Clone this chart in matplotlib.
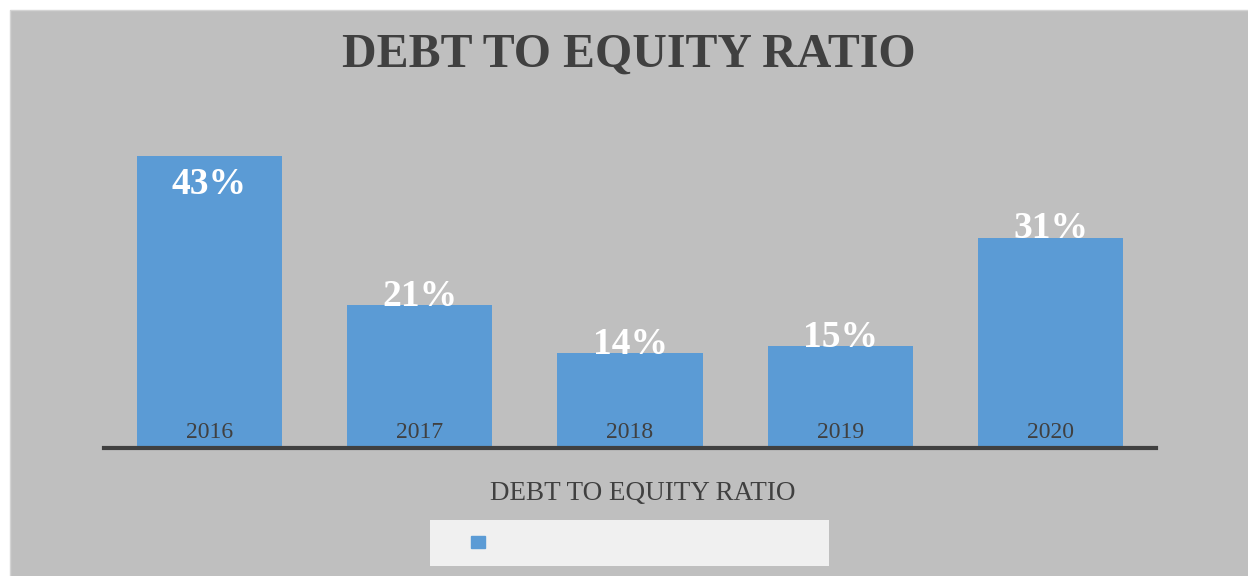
import matplotlib.pyplot as plt
from matplotlib.patches import Rectangle, Patch

years = ['2016', '2017', '2018', '2019', '2020']
ratios = [0.43, 0.21, 0.14, 0.15, 0.31]
title = 'DEBT TO EQUITY RATIO'

bar_color = '#5B9BD5'
dark = '#404040'
W, H = 1248, 576

plt.rcParams['font.family'] = ['Liberation Serif', 'DejaVu Serif']

fig = plt.figure(figsize=(W / 100, H / 100), dpi=100, facecolor='white')

# gray chart area (starts a bit in from the left/top edge, runs off right/bottom)
fig.patches.append(Rectangle((10 / W, -0.01), 1.01, 1.01 - 10 / H,
                             transform=fig.transFigure, facecolor='#BFBFBF',
                             edgecolor='#D4D4D4', linewidth=1, zorder=0))

ax = fig.add_axes([104 / W, 1 - 448 / H, (1156 - 104) / W, (448 - 108.5) / H])
ax.set_facecolor('none')
ax.set_zorder(2)

x = range(len(years))
bars = ax.bar(x, ratios, width=0.69, color=bar_color, zorder=2)
ax.set_xlim(-0.5, len(years) - 0.5)
ax.set_ylim(0, 0.5)

for s in ['top', 'left', 'right']:
    ax.spines[s].set_visible(False)
ax.spines['bottom'].set_color(dark)
ax.spines['bottom'].set_linewidth(3)
ax.spines['bottom'].set_zorder(3)
ax.set_xticks([])
ax.set_yticks([])

# year labels sit inside the bars, value labels near the top
for i, (yr, v) in enumerate(zip(years, ratios)):
    ax.annotate(yr, (i, 0), xytext=(0, 7.5), textcoords='offset points',
                ha='center', va='baseline', fontsize=17, color=dark, zorder=4)
    if v > 0.4:
        off, va = -8, 'top'
    else:
        off, va = -0.5, 'baseline'
    ax.annotate(f'{v:.0%}', (i, v), xytext=(0, off), textcoords='offset points',
                ha='center', va=va, fontsize=27, fontweight='bold',
                color='white', zorder=4)

fig.text(629 / W, 1 - 55 / H, title, ha='center', va='center',
         fontsize=34.5, fontweight='bold', color=dark, zorder=3)
fig.text(643 / W, 1 - 493 / H, title, ha='center', va='center',
         fontsize=19.5, color=dark, zorder=3)

# legend box (series has no visible name)
fig.patches.append(Rectangle((430 / W, 1 - 566 / H), 399 / W, 46 / H,
                             transform=fig.transFigure, facecolor='#F0F0F0',
                             edgecolor='none', zorder=1))
leg = fig.legend(handles=[Patch(color=bar_color)], labels=[' '],
                 loc='center left', bbox_to_anchor=(471 / W, 1 - 543 / H),
                 frameon=False, fontsize=10, handlelength=1, handleheight=1,
                 borderpad=0, borderaxespad=0, handletextpad=0.3)
leg.set_zorder(3)

fig.savefig('out.png', dpi=100, facecolor='white')
